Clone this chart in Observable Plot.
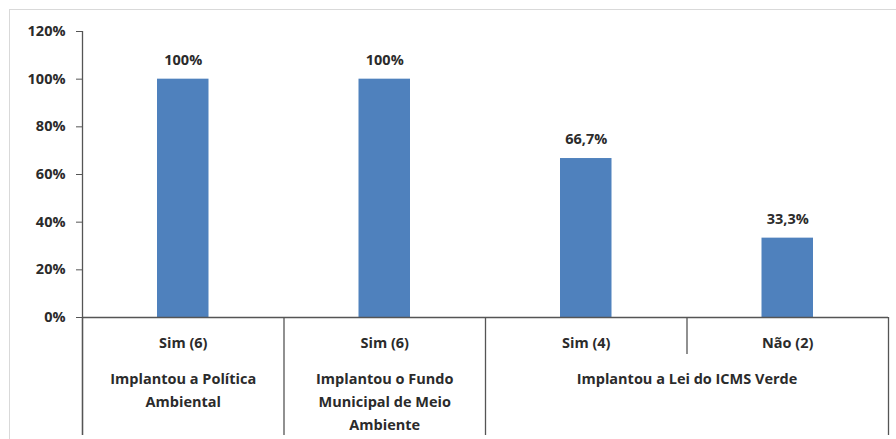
<!DOCTYPE html>
<html>
<head>
<meta charset="utf-8">
<script src="https://cdn.jsdelivr.net/npm/d3@7"></script>
<script src="https://cdn.jsdelivr.net/npm/@observablehq/plot@0.6"></script>
<style>
  html, body { margin: 0; padding: 0; background: #fff; }
  #chart { width: 896px; height: 439px; }
</style>
</head>
<body>
<div id="chart"></div>
<script>
// Data
const categories = ["Sim (6)", "Sim (6)", "Sim (4)", "Não (2)"];
const values = [100, 100, 66.7, 33.3];
const valueLabels = ["100%", "100%", "66,7%", "33,3%"];
const groupLabels = ["Implantou a Política\nAmbiental", "Implantou o Fundo\nMunicipal de Meio\nAmbiente", "Implantou a Lei do ICMS Verde"];
const groupStart = [0, 1, 2];
const groupEnd = [1, 2, 4];
const yTicks = [0, 20, 40, 60, 80, 100, 120];

const bars = categories.map((c, i) => ({i, c, v: values[i], label: valueLabels[i]}));
const groups = groupLabels.map((g, k) => ({g, x0: groupStart[k], x1: groupEnd[k]}));
const longSeps = [...new Set([...groupStart, ...groupEnd])];
const shortSeps = bars.map(d => d.i).filter(i => !longSeps.includes(i));

const FONT = "'Open Sans', Lato, sans-serif";
const FS = 14.5;
const TXT = "#2b2b2b";

const chart = Plot.plot({
  width: 896,
  height: 439,
  marginLeft: 82,
  marginRight: 8,
  marginTop: 31,
  marginBottom: 122,
  style: {fontFamily: FONT, fontSize: FS + "px", fontWeight: "bold", color: TXT, background: "transparent", overflow: "visible"},
  x: {type: "linear", domain: [0, categories.length], axis: null},
  y: {domain: [0, 120], axis: null},
  marks: [
    Plot.rectY(bars, {x1: "i", x2: d => d.i + 1, y1: 0, y2: "v", fill: "#4F81BD", insetLeft: 75, insetRight: 75}),
    Plot.text(bars, {x: d => d.i + 0.5, y: "v", text: "label", dy: -19, fill: TXT, fontSize: FS, fontWeight: "bold"}),
    Plot.text(bars, {x: d => d.i + 0.5, y: 0, text: "c", dy: 26, fill: TXT, fontSize: FS, fontWeight: "bold"}),
    Plot.text(groups, {x: d => (d.x0 + d.x1) / 2, y: 0, text: "g", dy: 50, lineAnchor: "top", lineHeight: 1.6, fill: TXT, fontSize: FS, fontWeight: "bold"}),
    Plot.axisY({ticks: yTicks, tickFormat: d => d + "%", tickSize: 6, tickPadding: 11, fontSize: FS, fontWeight: "bold", stroke: "#555", label: null}),
    Plot.ruleY([0], {stroke: "#555", strokeWidth: 1.3}),
    Plot.ruleX([0], {x: d => d, y1: 120, y2: 0, insetBottom: -118, stroke: "#555", strokeWidth: 1.3}),
    Plot.ruleX(longSeps, {x: d => d, y1: 0, y2: 0, insetBottom: -118, stroke: "#555", strokeWidth: 1.3}),
    Plot.ruleX(shortSeps, {x: d => d, y1: 0, y2: 0, insetBottom: -37, stroke: "#555", strokeWidth: 1.3})
  ]
});

// light outer chart-area border (top and left)
const wrap = document.createElement("div");
wrap.style.cssText = "position:relative;width:896px;height:439px;";
const border = document.createElement("div");
border.style.cssText = "position:absolute;left:9px;top:9px;right:0;bottom:0;border-top:1.5px solid #d9d9d9;border-left:1.5px solid #d9d9d9;pointer-events:none;";
chart.style.position = "absolute";
chart.style.left = "0";
chart.style.top = "0";
wrap.appendChild(chart);
wrap.appendChild(border);
document.getElementById("chart").appendChild(wrap);
</script>
</body>
</html>
